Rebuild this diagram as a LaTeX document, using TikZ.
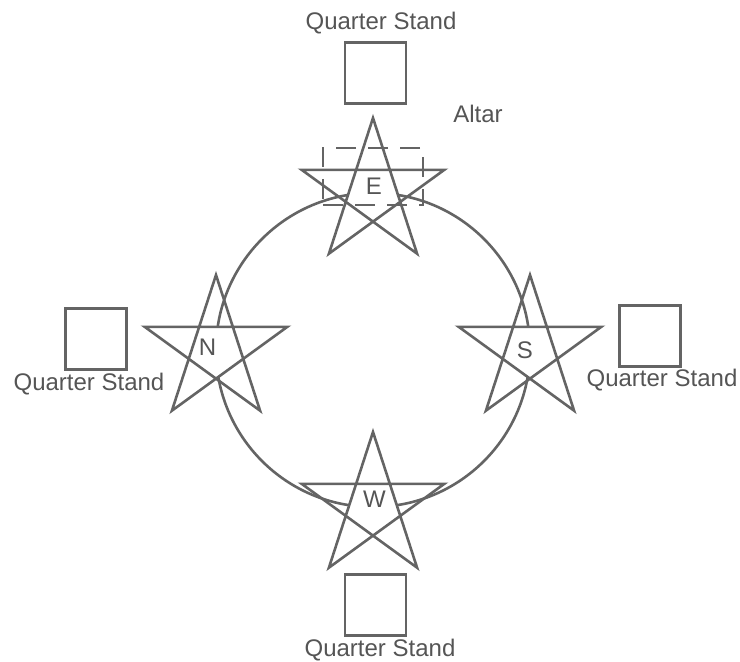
\documentclass[tikz,border=0pt]{standalone}
\usepackage{fontspec}
\setmainfont{Liberation Sans}
\usetikzlibrary{positioning}
\definecolor{ink}{RGB}{100,100,100}
\definecolor{txt}{RGB}{85,85,85}

\begin{document}
\begin{tikzpicture}[x=1pt, y=1pt, line width=2.6pt, draw=ink,
	every node/.style={font=\fontsize{24}{28}\selectfont, text=txt, inner sep=0pt},
	stand/.style={draw=ink, minimum size=61pt, line width=2.4pt},
	standlabel/.style={anchor=base},
	altarbox/.style={draw=ink, line width=2pt, dash pattern=on 20pt off 12pt, minimum width=100pt, minimum height=57pt}]
	\useasboundingbox (0,0) rectangle (740,662);
	\coordinate (ring) at (373,312);
	% the circle
	\draw (ring) circle (157);
	% a pentagram at each quarter
	\foreach \q/\a in {E/90,N/180,W/270,S/0} {
		\coordinate (\q) at ([shift={(\a:157)}]ring);
		\fill[white] (\q) +(126:28.6) -- +(198:28.6) -- +(270:28.6) -- +(342:28.6) -- +(54:28.6) -- cycle;
		\draw (\q) +(90:75) -- +(234:75) -- +(18:75) -- +(162:75) -- +(306:75) -- cycle;
	}
	\node (lblE) at (374,476) {E};
	\node (lblN) at (207.5,314.5) {N};
	\node (lblS) at (525,312) {S};
	\node (lblW) at (374.5,163) {W};
	% altar
	\node[altarbox] (altar) at (373,485.5) {};
	\node[standlabel] (altarlabel) at (478,539) {Altar};
	% quarter stands
	\node[stand] (standE) at (375.5,589) {};
	\node[stand] (standN) at (96,323) {};
	\node[stand] (standS) at (650,326) {};
	\node[stand] (standW) at (375.5,57) {};
	\node[standlabel] at (381,632) {Quarter Stand};
	\node[standlabel] at (89,271) {Quarter Stand};
	\node[standlabel] at (662,275) {Quarter Stand};
	\node[standlabel] at (380,5) {Quarter Stand};
\end{tikzpicture}
\end{document}
